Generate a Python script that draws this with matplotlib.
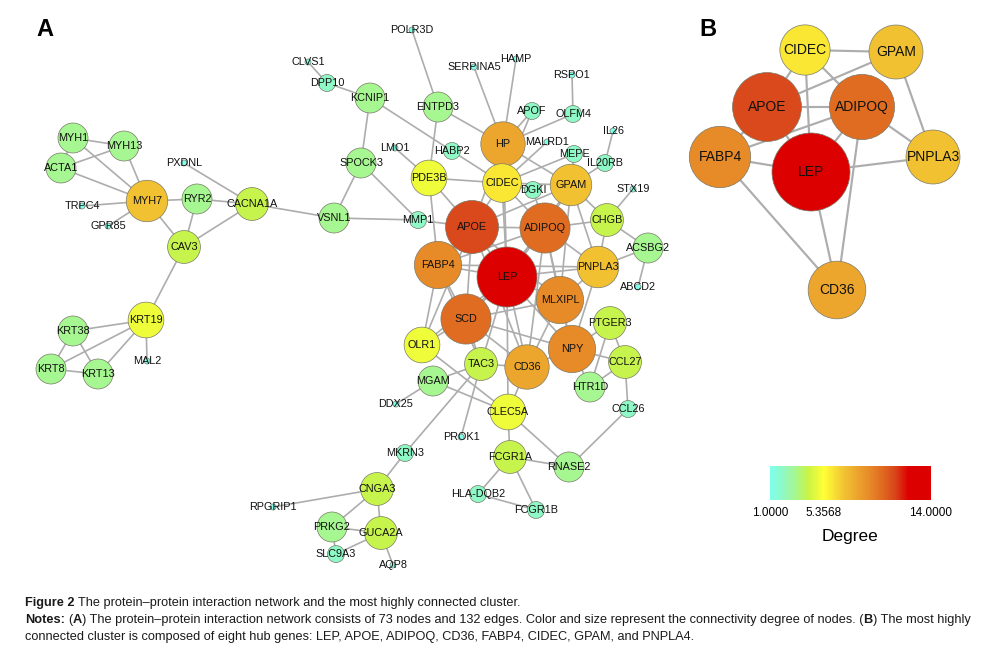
import matplotlib
matplotlib.use("Agg")
import numpy as np
import matplotlib.pyplot as plt
from matplotlib.colors import LinearSegmentedColormap, Normalize
from matplotlib.collections import LineCollection
from matplotlib.patches import Circle
from matplotlib.cm import ScalarMappable

plt.rcParams['font.family'] = ['Liberation Sans', 'DejaVu Sans']

# ---- panel A: genes, layout (pixel units of the original network drawing) and degree
genes = ['MYH1', 'MYH13', 'ACTA1', 'PXDNL', 'MYH7', 'RYR2', 'CACNA1A', 'TRPC4', 'GPR85', 'CAV3',
         'KRT19', 'KRT38', 'KRT8', 'KRT13', 'MAL2', 'CLVS1', 'DPP10', 'VSNL1', 'POLR3D', 'SERPINA5',
         'HAMP', 'RSPO1', 'KCNIP1', 'ENTPD3', 'APOF', 'OLFM4', 'IL26', 'HP', 'MALRD1', 'LMO1',
         'HABP2', 'MEPE', 'IL20RB', 'SPOCK3', 'PDE3B', 'CIDEC', 'DGKI', 'GPAM', 'STX19', 'MMP1',
         'APOE', 'ADIPOQ', 'CHGB', 'ACSBG2', 'FABP4', 'LEP', 'PNPLA3', 'ABCD2', 'MLXIPL', 'SCD',
         'PTGER3', 'OLR1', 'NPY', 'TAC3', 'CD36', 'CCL27', 'MGAM', 'HTR1D', 'DDX25', 'CLEC5A',
         'CCL26', 'PROK1', 'MKRN3', 'FCGR1A', 'RNASE2', 'CNGA3', 'HLA-DQB2', 'RPGRIP1', 'FCGR1B',
         'PRKG2', 'GUCA2A', 'SLC9A3', 'AQP8']
pos_x = [73, 124, 61, 184, 147, 197, 252, 82, 108, 184,
         146, 73, 51, 98, 147, 308, 327, 334, 412, 474,
         516, 572, 370, 438, 532, 573, 613, 503, 547, 395,
         452, 574, 605, 361, 429, 502, 533, 571, 633, 418,
         472, 545, 607, 648, 438, 507, 598, 638, 560, 466,
         610, 422, 572, 481, 527, 625, 433, 590, 396, 508,
         628, 461, 405, 510, 569, 377, 478, 273, 536,
         332, 381, 336, 393]
pos_y = [138, 146, 168, 163, 201, 199, 204, 206, 226, 247,
         320, 331, 369, 374, 361, 62, 83, 218, 30, 67,
         59, 75, 98, 107, 111, 114, 131, 144, 142, 148,
         151, 154, 163, 163, 178, 183, 190, 185, 189, 220,
         227, 228, 220, 248, 265, 277, 267, 287, 300, 319,
         323, 345, 349, 364, 367, 362, 381, 387, 404, 412,
         409, 437, 453, 457, 467, 489, 494, 507, 510,
         527, 533, 554, 565]
degree = [3, 3, 3, 1, 7, 3, 4, 1, 1, 4,
          5, 3, 3, 3, 1, 1, 2, 3, 1, 1,
          1, 1, 3, 3, 2, 2, 1, 8, 1, 1,
          2, 2, 2, 3, 5, 6, 2, 7, 1, 2,
          11, 10, 4, 3, 9, 14, 7, 1, 9, 10,
          4, 5, 9, 4, 8, 4, 3, 3, 1, 5,
          2, 1, 2, 4, 3, 4, 2, 1, 2,
          3, 4, 2, 1]

edges = [
    ('MYH1', 'MYH13'), ('MYH1', 'ACTA1'), ('MYH1', 'MYH7'), ('ACTA1', 'MYH13'), ('ACTA1', 'MYH7'),
    ('MYH13', 'MYH7'), ('MYH7', 'TRPC4'), ('MYH7', 'GPR85'), ('MYH7', 'RYR2'), ('MYH7', 'CAV3'),
    ('RYR2', 'CACNA1A'), ('RYR2', 'CAV3'), ('PXDNL', 'CACNA1A'), ('CACNA1A', 'CAV3'),
    ('CACNA1A', 'VSNL1'), ('CAV3', 'KRT19'), ('KRT19', 'KRT38'), ('KRT19', 'KRT8'),
    ('KRT19', 'KRT13'), ('KRT19', 'MAL2'), ('KRT38', 'KRT8'), ('KRT38', 'KRT13'), ('KRT8', 'KRT13'),
    ('CLVS1', 'DPP10'), ('DPP10', 'KCNIP1'), ('KCNIP1', 'SPOCK3'), ('KCNIP1', 'HABP2'),
    ('SPOCK3', 'VSNL1'), ('SPOCK3', 'MMP1'), ('VSNL1', 'MMP1'), ('MMP1', 'APOE'),
    ('LMO1', 'PDE3B'), ('POLR3D', 'ENTPD3'), ('ENTPD3', 'PDE3B'), ('ENTPD3', 'HP'), ('HABP2', 'CIDEC'),
    ('SERPINA5', 'HP'), ('HAMP', 'HP'), ('APOF', 'HP'), ('APOF', 'CIDEC'), ('OLFM4', 'HP'),
    ('OLFM4', 'RSPO1'), ('MALRD1', 'CIDEC'), ('MEPE', 'GPAM'), ('MEPE', 'CIDEC'), ('IL26', 'IL20RB'),
    ('IL20RB', 'GPAM'), ('DGKI', 'CIDEC'), ('DGKI', 'ADIPOQ'), ('STX19', 'CHGB'), ('HP', 'GPAM'),
    ('LEP', 'APOE'), ('LEP', 'ADIPOQ'), ('LEP', 'FABP4'), ('LEP', 'CIDEC'), ('LEP', 'PNPLA3'),
    ('LEP', 'CD36'), ('LEP', 'SCD'), ('LEP', 'MLXIPL'), ('LEP', 'NPY'), ('LEP', 'TAC3'),
    ('LEP', 'GPAM'), ('LEP', 'HP'), ('LEP', 'OLR1'), ('LEP', 'CLEC5A'),
    ('APOE', 'ADIPOQ'), ('APOE', 'FABP4'), ('APOE', 'CIDEC'), ('APOE', 'SCD'), ('APOE', 'MLXIPL'),
    ('APOE', 'PDE3B'), ('APOE', 'HP'), ('APOE', 'GPAM'), ('APOE', 'CD36'), ('APOE', 'OLR1'),
    ('ADIPOQ', 'CIDEC'), ('ADIPOQ', 'GPAM'), ('ADIPOQ', 'CHGB'), ('ADIPOQ', 'PNPLA3'),
    ('ADIPOQ', 'MLXIPL'), ('ADIPOQ', 'NPY'), ('ADIPOQ', 'FABP4'), ('ADIPOQ', 'SCD'), ('ADIPOQ', 'CD36'),
    ('GPAM', 'CHGB'), ('GPAM', 'PNPLA3'), ('GPAM', 'MLXIPL'), ('GPAM', 'CIDEC'),
    ('PNPLA3', 'CHGB'), ('PNPLA3', 'ACSBG2'), ('PNPLA3', 'MLXIPL'), ('PNPLA3', 'NPY'), ('PNPLA3', 'FABP4'),
    ('CHGB', 'ACSBG2'), ('ACSBG2', 'ABCD2'),
    ('FABP4', 'SCD'), ('FABP4', 'OLR1'), ('FABP4', 'TAC3'),
    ('SCD', 'OLR1'), ('SCD', 'TAC3'), ('SCD', 'CD36'), ('SCD', 'NPY'), ('SCD', 'MLXIPL'),
    ('MLXIPL', 'NPY'), ('MLXIPL', 'CD36'),
    ('NPY', 'CD36'), ('NPY', 'PTGER3'), ('NPY', 'CCL27'), ('NPY', 'HTR1D'),
    ('PTGER3', 'CCL27'), ('PTGER3', 'HTR1D'), ('CCL27', 'HTR1D'), ('CCL27', 'CCL26'), ('CCL26', 'RNASE2'),
    ('CD36', 'TAC3'), ('CD36', 'CLEC5A'), ('PDE3B', 'CIDEC'), ('PDE3B', 'FABP4'), ('OLR1', 'CLEC5A'),
    ('MGAM', 'DDX25'), ('MGAM', 'CLEC5A'), ('MGAM', 'TAC3'), ('TAC3', 'MKRN3'), ('TAC3', 'PROK1'),
    ('CLEC5A', 'FCGR1A'), ('CLEC5A', 'RNASE2'),
    ('FCGR1A', 'RNASE2'), ('FCGR1A', 'HLA-DQB2'), ('FCGR1A', 'FCGR1B'), ('HLA-DQB2', 'FCGR1B'),
    ('MKRN3', 'CNGA3'), ('CNGA3', 'RPGRIP1'), ('CNGA3', 'PRKG2'), ('CNGA3', 'GUCA2A'),
    ('PRKG2', 'GUCA2A'), ('PRKG2', 'SLC9A3'), ('GUCA2A', 'SLC9A3'), ('GUCA2A', 'AQP8'),
]

# ---- panel B: the most highly connected cluster
hub_genes = ['CIDEC', 'GPAM', 'APOE', 'ADIPOQ', 'FABP4', 'LEP', 'PNPLA3', 'CD36']
hub_x = [805, 896, 767, 862, 720, 811, 933, 837]
hub_y = [50, 52, 107, 107, 157, 172, 157, 290]
hub_degree = [6, 7, 11, 10, 9, 14, 7, 8]
hub_edges = [
    ('CIDEC', 'GPAM'), ('CIDEC', 'APOE'), ('CIDEC', 'ADIPOQ'), ('CIDEC', 'LEP'), ('GPAM', 'APOE'),
    ('GPAM', 'PNPLA3'), ('APOE', 'ADIPOQ'), ('APOE', 'FABP4'), ('APOE', 'LEP'), ('ADIPOQ', 'FABP4'),
    ('ADIPOQ', 'LEP'), ('ADIPOQ', 'PNPLA3'), ('ADIPOQ', 'CD36'), ('FABP4', 'LEP'), ('FABP4', 'CD36'),
    ('LEP', 'PNPLA3'), ('LEP', 'CD36'),
]

cbar_ticks = [1.0, 5.3568, 14.0]

caption = [
    [('Figure 2', True), (' The protein\u2013protein interaction network and the most highly connected cluster.', False)],
    [('Notes:', True), (' (', False), ('A', True),
     (') The protein\u2013protein interaction network consists of 73 nodes and 132 edges. '
      'Color and size represent the connectivity degree of nodes. (', False),
     ('B', True), (') The most highly', False)],
    [('connected cluster is composed of eight hub genes: LEP, APOE, ADIPOQ, CD36, FABP4, CIDEC, GPAM, and PNPLA4.', False)],
]

# ---- colour / size mapping (Cytoscape style gradient)
cmap = LinearSegmentedColormap.from_list('degree', [
    (0.0, '#80ffec'), (0.08, '#8ff8c4'), (0.16, '#a8f68c'), (0.24, '#cbf444'),
    (0.335, '#ffff36'), (0.46, '#f1c232'), (0.6, '#e8902a'), (0.7, '#e06a20'),
    (0.78, '#d8441a'), (0.86, '#dd0000'), (1.0, '#dd0000')])
norm = Normalize(1, 14)


def radius(d):
    return np.interp(d, [1, 2, 3, 11, 14], [3, 8.5, 15, 26.5, 30])


W, H = 981, 664
fig = plt.figure(figsize=(W / 100, H / 100), dpi=100)
ax = fig.add_axes([0, 0, 1, 1])
ax.set_xlim(0, W)
ax.set_ylim(H, 0)
ax.axis('off')


def draw_network(names, xs, ys, degs, links, scale, fsize):
    where = {n: (x, y) for n, x, y in zip(names, xs, ys)}
    segs = [[where[a], where[b]] for a, b in links]
    ax.add_collection(LineCollection(segs, colors='#adadad', linewidths=1.2 * scale, zorder=1))
    for n, x, y, d in zip(names, xs, ys, degs):
        ax.add_patch(Circle((x, y), radius(d) * scale, facecolor=cmap(norm(d)),
                            edgecolor='#7a7a6a', linewidth=0.5, zorder=2))
        ax.text(x, y, n, ha='center', va='center', fontsize=fsize, color='#111111', zorder=3)


draw_network(genes, pos_x, pos_y, degree, edges, 1.0, 7.8)
draw_network(hub_genes, hub_x, hub_y, hub_degree, hub_edges, 1.3, 10)

ax.text(36, 30, 'A', fontsize=17, fontweight='bold', va='center', ha='left')
ax.text(699, 30, 'B', fontsize=17, fontweight='bold', va='center', ha='left')

# colour legend
cax = fig.add_axes([770 / W, 1 - 500 / H, 161 / W, 34 / H])
cb = fig.colorbar(ScalarMappable(norm=norm, cmap=cmap), cax=cax, orientation='horizontal')
cb.outline.set_visible(False)
cb.set_ticks(cbar_ticks)
cb.set_ticklabels(['%.4f' % t for t in cbar_ticks])
cax.tick_params(length=0, labelsize=8.5, pad=5)
ax.text(850, 537, 'Degree', fontsize=12.5, ha='center', va='center')

# caption with bold runs
cap_font = ['Liberation Sans Narrow', 'Liberation Sans', 'DejaVu Sans']
renderer = fig.canvas.get_renderer()


def text_width(s, bold, size):
    t = ax.text(0, 0, s, fontsize=size, fontweight='bold' if bold else 'normal', family=cap_font)
    w = t.get_window_extent(renderer).width
    t.remove()
    return w


cap_size = 9.2
space_w = text_width('a a', False, cap_size) - text_width('aa', False, cap_size)
for i, runs in enumerate(caption):
    x = 25
    y = 606 + 17 * i
    for s, bold in runs:
        lead = len(s) - len(s.lstrip(' '))
        x += lead * space_w
        core = s.strip(' ')
        if core:
            t = ax.text(x, y, core, fontsize=cap_size, fontweight='bold' if bold else 'normal',
                        family=cap_font, va='baseline', ha='left', color='#1a1a1a')
            x += t.get_window_extent(renderer).width
        x += (len(s) - len(s.rstrip(' '))) * space_w if core else 0

fig.savefig('out.png', dpi=100)
